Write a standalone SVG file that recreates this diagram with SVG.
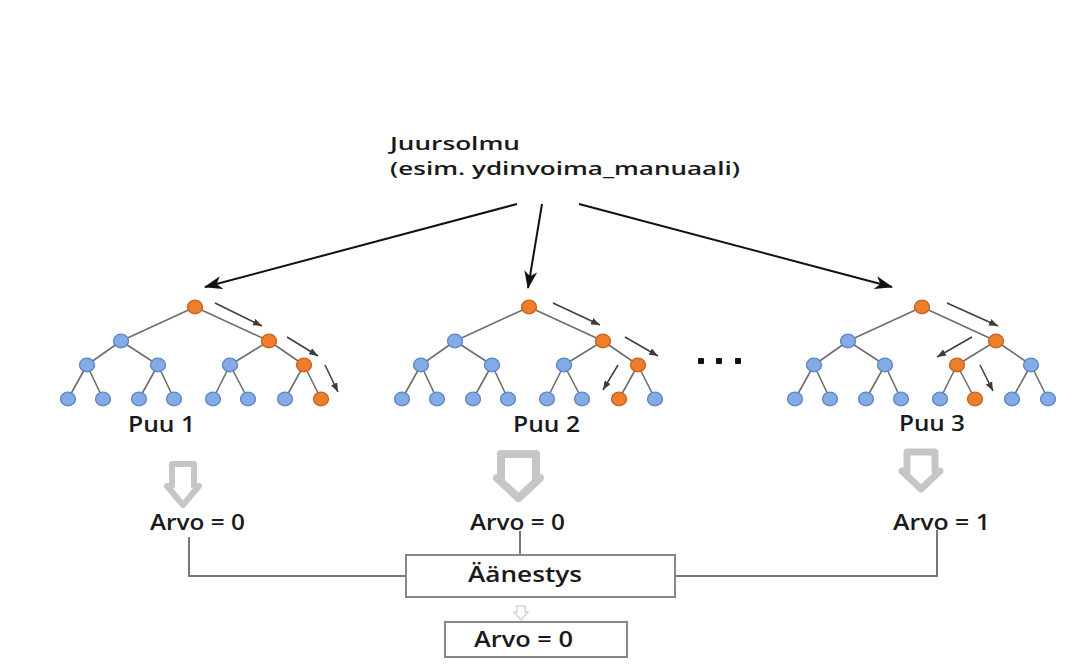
<svg xmlns="http://www.w3.org/2000/svg" width="1075" height="672" viewBox="0 0 1075 672">
  <style>
    .lbl { font-family: "Open Sans", "Liberation Sans", sans-serif; font-weight: 600; font-size: 21px; fill: #1a1a1a; }
    .title { font-size: 18px; }
    .edge { stroke: #6e6e6e; stroke-width: 1.6; fill: none; }
    .blue { fill: #84abe6; stroke: #5a85c6; stroke-width: 1.3; }
    .orange { fill: #ee7e2c; stroke: #c6621c; stroke-width: 1.3; }
    .walk { stroke: #3d3d3d; stroke-width: 1.5; fill: none; marker-end: url(#smallHead); }
    .root { stroke: #111; stroke-width: 2; fill: none; marker-end: url(#bigHead); }
    .block { fill: #fff; stroke: #c6c6c6; stroke-linejoin: round; }
    .wire { stroke: #777; stroke-width: 2; fill: none; }
    .box { fill: #fff; stroke: #888; stroke-width: 2; }
  </style>
  <defs>
    <marker id="bigHead" markerUnits="userSpaceOnUse" markerWidth="18" markerHeight="13" refX="17" refY="6.5" orient="auto">
      <path d="M0,0 L18,6.5 L0,13 L5,6.5 Z" fill="#111"/>
    </marker>
    <marker id="smallHead" markerUnits="userSpaceOnUse" markerWidth="9" markerHeight="7" refX="9" refY="3.5" orient="auto">
      <path d="M0,0 L9,3.5 L0,7 Z" fill="#3d3d3d"/>
    </marker>
    <!-- one binary tree, root at the origin -->
    <g id="treeEdges">
      <path class="edge" d="M0,0 L-74,34 M0,0 L74,34
        M-74,34 L-108,58 M-74,34 L-37,58 M74,34 L35,58 M74,34 L109,58
        M-108,58 L-127,92 M-108,58 L-92,92 M-37,58 L-56,92 M-37,58 L-21,92
        M35,58 L18,92 M35,58 L53,92 M109,58 L90,92 M109,58 L126,92"/>
    </g>
  </defs>

  <rect width="1075" height="672" fill="#fff"/>

  <!-- root label -->
  <g id="rootLabel">
    <text class="lbl title" x="390" y="150" textLength="130" lengthAdjust="spacingAndGlyphs">Juursolmu</text>
    <text class="lbl title" x="390" y="175" textLength="350" lengthAdjust="spacingAndGlyphs">(esim. ydinvoima_manuaali)</text>
  </g>

  <!-- tree 1 -->
  <g id="tree1" transform="translate(195,307)">
    <use href="#treeEdges"/>
    <ellipse class="orange" cx="0" cy="0" rx="7.5" ry="6.8"/>
    <ellipse class="blue" cx="-74" cy="34" rx="7.5" ry="6.8"/>
    <ellipse class="orange" cx="74" cy="34" rx="7.5" ry="6.8"/>
    <ellipse class="blue" cx="-108" cy="58" rx="7.5" ry="6.8"/>
    <ellipse class="blue" cx="-37" cy="58" rx="7.5" ry="6.8"/>
    <ellipse class="blue" cx="35" cy="58" rx="7.5" ry="6.8"/>
    <ellipse class="orange" cx="109" cy="58" rx="7.5" ry="6.8"/>
    <ellipse class="blue" cx="-127" cy="92" rx="7.5" ry="6.8"/>
    <ellipse class="blue" cx="-92" cy="92" rx="7.5" ry="6.8"/>
    <ellipse class="blue" cx="-56" cy="92" rx="7.5" ry="6.8"/>
    <ellipse class="blue" cx="-21" cy="92" rx="7.5" ry="6.8"/>
    <ellipse class="blue" cx="18" cy="92" rx="7.5" ry="6.8"/>
    <ellipse class="blue" cx="53" cy="92" rx="7.5" ry="6.8"/>
    <ellipse class="blue" cx="90" cy="92" rx="7.5" ry="6.8"/>
    <ellipse class="orange" cx="126" cy="92" rx="7.5" ry="6.8"/>
    <path class="walk" d="M20,-4 L67,19"/>
    <path class="walk" d="M92,30 L123,49"/>
    <path class="walk" d="M130,58 L143,85"/>
  </g>

  <!-- tree 2 -->
  <g id="tree2" transform="translate(529,307)">
    <use href="#treeEdges"/>
    <ellipse class="orange" cx="0" cy="0" rx="7.5" ry="6.8"/>
    <ellipse class="blue" cx="-74" cy="34" rx="7.5" ry="6.8"/>
    <ellipse class="orange" cx="74" cy="34" rx="7.5" ry="6.8"/>
    <ellipse class="blue" cx="-108" cy="58" rx="7.5" ry="6.8"/>
    <ellipse class="blue" cx="-37" cy="58" rx="7.5" ry="6.8"/>
    <ellipse class="blue" cx="35" cy="58" rx="7.5" ry="6.8"/>
    <ellipse class="orange" cx="109" cy="58" rx="7.5" ry="6.8"/>
    <ellipse class="blue" cx="-127" cy="92" rx="7.5" ry="6.8"/>
    <ellipse class="blue" cx="-92" cy="92" rx="7.5" ry="6.8"/>
    <ellipse class="blue" cx="-56" cy="92" rx="7.5" ry="6.8"/>
    <ellipse class="blue" cx="-21" cy="92" rx="7.5" ry="6.8"/>
    <ellipse class="blue" cx="18" cy="92" rx="7.5" ry="6.8"/>
    <ellipse class="blue" cx="53" cy="92" rx="7.5" ry="6.8"/>
    <ellipse class="orange" cx="90" cy="92" rx="7.5" ry="6.8"/>
    <ellipse class="blue" cx="126" cy="92" rx="7.5" ry="6.8"/>
    <path class="walk" d="M24,-4 L71,18"/>
    <path class="walk" d="M96,30 L129,49"/>
    <path class="walk" d="M89,58 L74,83"/>
  </g>

  <!-- ellipsis between trees -->
  <g id="more" fill="#111">
    <rect x="698" y="358" width="6" height="6" rx="1"/>
    <rect x="716" y="358" width="6" height="6" rx="1"/>
    <rect x="735" y="358" width="6" height="6" rx="1"/>
  </g>

  <!-- tree 3 -->
  <g id="tree3" transform="translate(922,307)">
    <use href="#treeEdges"/>
    <ellipse class="orange" cx="0" cy="0" rx="7.5" ry="6.8"/>
    <ellipse class="blue" cx="-74" cy="34" rx="7.5" ry="6.8"/>
    <ellipse class="orange" cx="74" cy="34" rx="7.5" ry="6.8"/>
    <ellipse class="blue" cx="-108" cy="58" rx="7.5" ry="6.8"/>
    <ellipse class="blue" cx="-37" cy="58" rx="7.5" ry="6.8"/>
    <ellipse class="orange" cx="35" cy="58" rx="7.5" ry="6.8"/>
    <ellipse class="blue" cx="109" cy="58" rx="7.5" ry="6.8"/>
    <ellipse class="blue" cx="-127" cy="92" rx="7.5" ry="6.8"/>
    <ellipse class="blue" cx="-92" cy="92" rx="7.5" ry="6.8"/>
    <ellipse class="blue" cx="-56" cy="92" rx="7.5" ry="6.8"/>
    <ellipse class="blue" cx="-21" cy="92" rx="7.5" ry="6.8"/>
    <ellipse class="blue" cx="18" cy="92" rx="7.5" ry="6.8"/>
    <ellipse class="orange" cx="53" cy="92" rx="7.5" ry="6.8"/>
    <ellipse class="blue" cx="90" cy="92" rx="7.5" ry="6.8"/>
    <ellipse class="blue" cx="126" cy="92" rx="7.5" ry="6.8"/>
    <path class="walk" d="M25,-4 L76,19"/>
    <path class="walk" d="M50,30 L15,50"/>
    <path class="walk" d="M58,58 L71,84"/>
  </g>

  <!-- tree captions -->
  <g id="captions">
    <text class="lbl" x="128" y="432" textLength="67" lengthAdjust="spacingAndGlyphs">Puu 1</text>
    <text class="lbl" x="513" y="432" textLength="67" lengthAdjust="spacingAndGlyphs">Puu 2</text>
    <text class="lbl" x="899" y="431" textLength="66" lengthAdjust="spacingAndGlyphs">Puu 3</text>
  </g>

  <!-- hollow gray down arrows -->
  <g id="outArrows">
    <path class="block" stroke-width="6" d="M172,464 H194 V486 H199 L183,505 L167,486 H172 Z"/>
    <path class="block" stroke-width="8" d="M501,454 H536 V478 H540 L518.5,498 L497,478 H501 Z"/>
    <path class="block" stroke-width="7" d="M907,452 H935 V471 H940 L921,489 L902,471 H907 Z"/>
  </g>

  <!-- per-tree values -->
  <g id="value1"><text class="lbl" x="150" y="530" textLength="95" lengthAdjust="spacingAndGlyphs">Arvo = 0</text></g>
  <g id="value2"><text class="lbl" x="470" y="530" textLength="95" lengthAdjust="spacingAndGlyphs">Arvo = 0</text></g>
  <g id="value3"><text class="lbl" x="893" y="530" textLength="97" lengthAdjust="spacingAndGlyphs">Arvo = 1</text></g>

  <!-- connectors -->
  <g id="connectors">
    <path class="root" d="M517,204 L205,287"/>
    <path class="root" d="M542,204 L528,288"/>
    <path class="root" d="M579,204 L892,287"/>
    <path class="wire" d="M189,537 V576 H406"/>
    <path class="wire" d="M520,531 V555"/>
    <path class="wire" d="M937,530 V576 H675"/>
    <path d="M517,606 H525 V612 H528 L521,620 L514,612 H517 Z" fill="#fff" stroke="#d6d6d6" stroke-width="1.5"/>
  </g>

  <!-- vote -->
  <g id="vote">
    <rect class="box" x="406" y="555" width="269" height="42"/>
    <text class="lbl" x="468" y="582" textLength="114" lengthAdjust="spacingAndGlyphs">Äänestys</text>
  </g>

  <!-- final result -->
  <g id="result">
    <rect class="box" x="445" y="622" width="182" height="35"/>
    <text class="lbl" x="474" y="647" textLength="99" lengthAdjust="spacingAndGlyphs">Arvo = 0</text>
  </g>
</svg>
